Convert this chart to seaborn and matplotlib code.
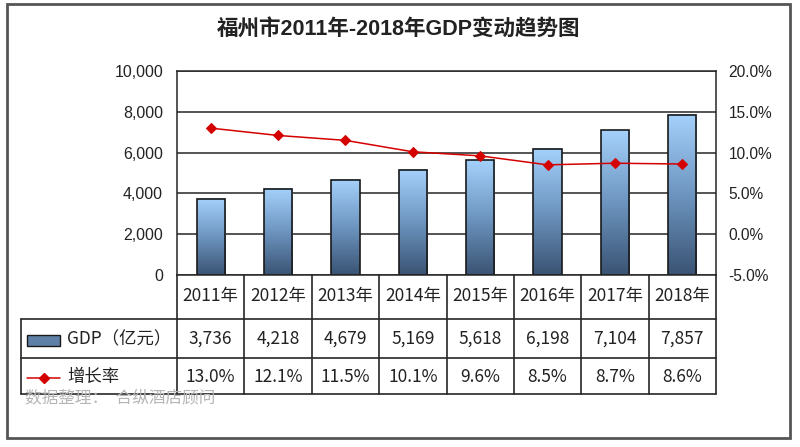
import numpy as np
import pandas as pd
import matplotlib
matplotlib.use("Agg")
import matplotlib.pyplot as plt
import seaborn as sns
from matplotlib.colors import LinearSegmentedColormap
from matplotlib.lines import Line2D
from matplotlib.patches import Rectangle
from matplotlib.ticker import FuncFormatter, MultipleLocator

years = ["2011年", "2012年", "2013年", "2014年", "2015年", "2016年", "2017年", "2018年"]
gdp = [3736, 4218, 4679, 5169, 5618, 6198, 7104, 7857]
growth = [13.0, 12.1, 11.5, 10.1, 9.6, 8.5, 8.7, 8.6]

title = "福州市2011年-2018年GDP变动趋势图"
gdp_label = "GDP（亿元）"
growth_label = "增长率"
source = "数据整理：  合纵酒店顾问"

sns.set_style("white")
plt.rcParams["font.family"] = ["Noto Sans CJK SC", "DejaVu Sans"]

W, H = 800, 447
fig = plt.figure(figsize=(W / 100, H / 100), dpi=100)

# plot area in pixels
L, R, T, B = 177, 716, 71, 275
ax = fig.add_axes([L / W, 1 - B / H, (R - L) / W, (B - T) / H])

df = pd.DataFrame({"year": years, "gdp": gdp, "growth": growth})
sns.barplot(data=df, x="year", y="gdp", ax=ax, width=0.42,
            color="#6f98c4", edgecolor="#1a1a1a", linewidth=1.2, zorder=2)

# gradient fill on bars
cmap = LinearSegmentedColormap.from_list("bars", ["#3a5373", "#6d95c0", "#a4d1fb"])
grad = np.linspace(0, 1, 256).reshape(-1, 1)
for p in ax.patches:
    x0, y0 = p.get_x(), p.get_y()
    w, h = p.get_width(), p.get_height()
    ax.imshow(grad, extent=[x0, x0 + w, y0, y0 + h], origin="lower",
              aspect="auto", cmap=cmap, zorder=1.5)
    p.set_facecolor("none")
ax.set_ylim(0, 10000)
ax.set_xlim(-0.5, len(years) - 0.5)

ax.set_axisbelow(True)
ax.yaxis.set_major_locator(MultipleLocator(2000))
ax.yaxis.grid(True, color="#262626", lw=1.1)
ax.xaxis.grid(False)
ax.set_xticks([])
ax.set_xlabel("")
ax.set_ylabel("")
ax.yaxis.set_major_formatter(FuncFormatter(lambda v, _: f"{v:,.0f}"))
ax.tick_params(axis="y", length=0, pad=10, labelsize=11.5, labelcolor="#222222")
for lab in ax.get_yticklabels():
    lab.set_family(["Liberation Sans", "DejaVu Sans"])
for s in ax.spines.values():
    s.set_color("#262626")
    s.set_linewidth(1.1)

ax2 = ax.twinx()
sns.lineplot(x=np.arange(len(years)), y=growth, ax=ax2, color="#d40000",
             lw=1.1, marker="D", markersize=5.5, markeredgecolor="#d40000")
ax2.set_ylim(-5, 20)
ax2.yaxis.set_major_locator(MultipleLocator(5))
ax2.yaxis.set_major_formatter(FuncFormatter(lambda v, _: f"{v:.1f}%"))
ax2.tick_params(axis="y", length=0, pad=9, labelsize=11.2, labelcolor="#222222")
for lab in ax2.get_yticklabels():
    lab.set_family(["Liberation Sans", "DejaVu Sans"])
    lab.set_horizontalalignment("left")
for s in ax2.spines.values():
    s.set_visible(False)

# overlay in pixel coordinates for the data table, frame and texts
ov2 = fig.add_axes([0, 0, 1, 1])
ov2.set_xlim(0, W)
ov2.set_ylim(H, 0)
ov2.axis("off")

lc = "#262626"
n = len(years)
cw = (R - L) / n
hdr_bot, row1_bot, row2_bot = 319, 358, 394
LEG_L = 21

def hline(x0, x1, y):
    ov2.add_line(Line2D([x0, x1], [y, y], color=lc, lw=1.2))

def vline(x, y0, y1):
    ov2.add_line(Line2D([x, x], [y0, y1], color=lc, lw=1.2))

hline(L, R, hdr_bot)
hline(LEG_L, L, hdr_bot)
hline(LEG_L, R, row1_bot)
hline(LEG_L, R, row2_bot)
vline(LEG_L, hdr_bot, row2_bot)
for i in range(n + 1):
    vline(L + i * cw, B, row2_bot)

tfont = dict(fontsize=12.5, color="#222222", ha="center", va="center")
for i in range(n):
    cx = L + (i + 0.5) * cw
    ov2.text(cx, 296, years[i], **tfont)
    ov2.text(cx, 339, f"{gdp[i]:,}", **tfont)
    ov2.text(cx, 377, f"{growth[i]:.1f}%", **tfont)

# legend keys in the table
ov2.add_patch(Rectangle((27, 335), 33, 11, facecolor="#5e80a6", edgecolor="#1a1a1a", lw=1))
ov2.text(67, 339, gdp_label, fontsize=12.5, color="#222222", ha="left", va="center")
ov2.add_line(Line2D([27, 60], [378, 378], color="#d40000", lw=1.1))
ov2.plot([43.5], [378], marker="D", color="#d40000", markersize=5.5)
ov2.text(67, 377, growth_label, fontsize=12.5, color="#222222", ha="left", va="center")

ov2.text(25, 398, source, fontsize=12, color="#b5b5b5", ha="left", va="center")

ov2.text(399, 29, title, fontsize=15.5, fontweight="bold", color="#222222",
         ha="center", va="center", family=["Liberation Sans", "Noto Sans CJK SC"])

# outer frame
ov2.add_patch(Rectangle((7, 4), 783, 434, facecolor="none", edgecolor="#555555", lw=2))

fig.savefig("out.png", dpi=100)
